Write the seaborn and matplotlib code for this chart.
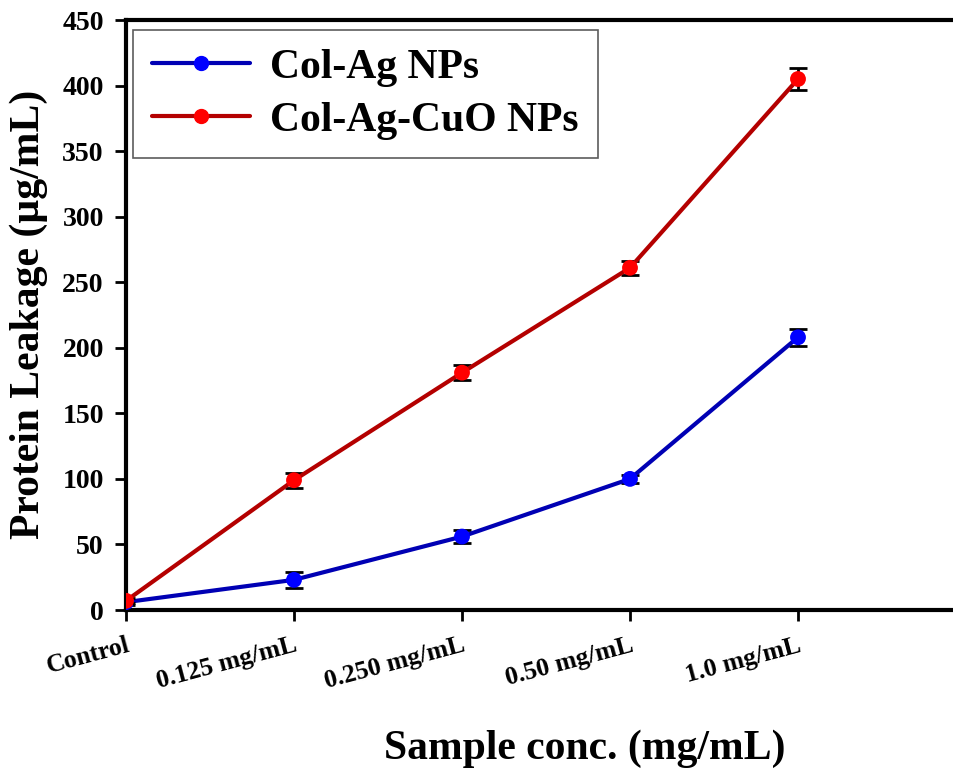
import matplotlib
matplotlib.use("Agg")
import matplotlib.pyplot as plt
from matplotlib.lines import Line2D
import seaborn as sns
import pandas as pd
import numpy as np

categories = ["Control", "0.125 mg/mL", "0.250 mg/mL", "0.50 mg/mL", "1.0 mg/mL"]
col_ag = [6, 23, 56, 100, 208]
col_ag_err = [2, 6, 5, 3, 6.5]
col_ag_cuo = [7, 99, 181, 261, 405]
col_ag_cuo_err = [2, 5.7, 5.7, 5.4, 8.4]
series_names = ["Col-Ag NPs", "Col-Ag-CuO NPs"]
yticks = [0, 50, 100, 150, 200, 250, 300, 350, 400, 450]

sns.set_theme(style="white")
plt.rcParams['font.family'] = ['Liberation Serif', 'DejaVu Serif']
plt.rcParams['font.weight'] = 'bold'
plt.rcParams['text.color'] = 'black'
plt.rcParams['axes.labelcolor'] = 'black'
plt.rcParams['xtick.color'] = 'black'
plt.rcParams['ytick.color'] = 'black'

line_cols = {"Col-Ag NPs": "#0000b4", "Col-Ag-CuO NPs": "#b40000"}
mark_cols = {"Col-Ag NPs": "#0000ff", "Col-Ag-CuO NPs": "#ff0000"}

df = pd.DataFrame({
    "x": list(range(len(categories))) * 2,
    "value": col_ag + col_ag_cuo,
    "err": col_ag_err + col_ag_cuo_err,
    "series": [series_names[0]] * len(categories) + [series_names[1]] * len(categories),
})

fig = plt.figure(figsize=(9.54, 7.72), dpi=100)
ax = fig.add_axes([126/954, 1 - 610/772, 1 - 126/954, (610 - 20)/772])

for i, name in enumerate(series_names):
    sub = df[df.series == name]
    ax.errorbar(sub.x, sub.value, yerr=sub.err, fmt="none", ecolor="black",
                elinewidth=2, capsize=6.5, capthick=2, zorder=2 + 3 * i)
    sns.lineplot(data=sub, x="x", y="value", color=line_cols[name], linewidth=3,
                 ax=ax, zorder=3 + 3 * i, legend=False)
    ax.scatter(sub.x, sub.value, s=130, color=mark_cols[name], zorder=4 + 3 * i,
               edgecolor="none")

ax.set_xlim(0, 828/168)
ax.set_ylim(0, 450)
ax.set_yticks(yticks)
ax.set_yticklabels([str(t) for t in yticks], fontsize=20, fontweight="bold")
ax.set_xticks(range(len(categories)))
ax.set_xticklabels(categories, fontsize=18.5, fontweight="bold", rotation=15,
                   ha="right", rotation_mode="anchor")
ax.tick_params(axis="both", direction="out", length=8, width=2, color="black",
               bottom=True, left=True)
ax.tick_params(axis="y", pad=8)
ax.tick_params(axis="x", pad=9)

for s in ["left", "bottom", "top"]:
    ax.spines[s].set_linewidth(3)
    ax.spines[s].set_color("black")
ax.spines["right"].set_visible(False)

ax.set_ylabel("Protein Leakage (µg/mL)", fontsize=30, fontweight="bold")
ax.yaxis.set_label_coords(-78/828, (610 - 314)/590)
ax.set_xlabel("Sample conc. (mg/mL)", fontsize=30, fontweight="bold")
ax.xaxis.set_label_coords((585 - 126)/828, -(749 - 610)/590)
ax.xaxis.label.set_va("center")

handles = [Line2D([0], [0], color=line_cols[n], linewidth=3, marker="o",
                  markersize=10, markerfacecolor=mark_cols[n], markeredgecolor=mark_cols[n])
           for n in series_names]
leg = ax.legend(handles, series_names, loc="upper left", bbox_to_anchor=(7/828, 1 - 10/590),
                prop={"family": "Liberation Serif", "weight": "bold", "size": 30},
                frameon=True, fancybox=False, edgecolor="#333333", handlelength=2.35,
                borderpad=0.45, labelspacing=0.35, handletextpad=0.5, borderaxespad=0)
leg.get_frame().set_linewidth(1.2)
for t in leg.get_texts():
    t.set_color("black")

fig.savefig("out.png", dpi=100)
